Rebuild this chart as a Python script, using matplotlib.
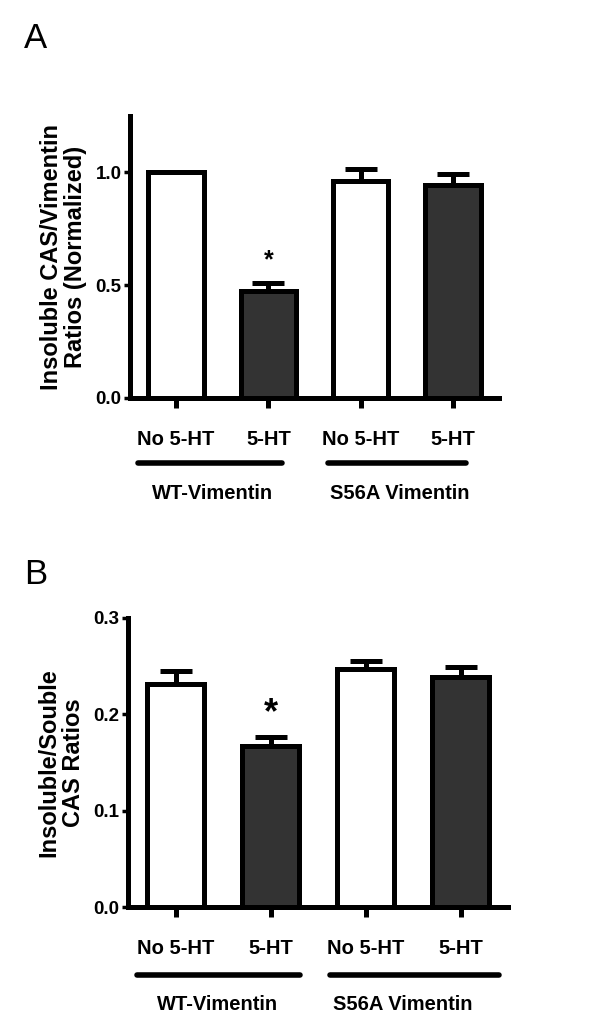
import numpy as np
import matplotlib
matplotlib.use("Agg")
import matplotlib.pyplot as plt

plt.rcParams['font.family'] = ['Liberation Sans', 'DejaVu Sans']

conditions = ["No 5-HT", "5-HT", "No 5-HT", "5-HT"]
groups = ["WT-Vimentin", "S56A Vimentin"]
fills = ["white", "#333333", "white", "#333333"]

# panel A: insoluble CAS / vimentin, normalized
a_vals = [1.0, 0.476, 0.964, 0.944]
a_err = [0.0, 0.034, 0.052, 0.050]
# panel B: insoluble / soluble CAS
b_vals = [0.232, 0.167, 0.247, 0.239]
b_err = [0.013, 0.009, 0.008, 0.010]

W, H = 601, 1028
fig = plt.figure(figsize=(W / 100, H / 100), dpi=100)

LW = 3.6


def make_panel(rect, vals, errs, ylim, yticks, ylabel, star_y, star_size,
               line_y, lines_x, label_y, label_x, letter, letter_xy, labelpad):
    ax = fig.add_axes(rect)
    x = np.arange(len(vals))
    lower = np.zeros(len(vals))
    ax.errorbar(x, vals, yerr=[lower, errs], fmt='none', ecolor='black',
                elinewidth=LW, capsize=11.5, capthick=LW, zorder=1)
    ax.bar(x, vals, width=0.6, color=fills, edgecolor='black',
           linewidth=LW, zorder=2)
    ax.set_xlim(-0.5, 3.5)
    ax.set_ylim(*ylim)
    ax.set_yticks(yticks)
    ax.set_yticklabels([f"{v:.1f}" for v in yticks])
    ax.set_xticks(x)
    ax.set_xticklabels(conditions)
    for s in ['top', 'right']:
        ax.spines[s].set_visible(False)
    for s in ['left', 'bottom']:
        ax.spines[s].set_linewidth(LW)
    ax.tick_params(axis='y', direction='out', length=4, width=2.5, pad=2,
                   labelsize=13.5)
    ax.tick_params(axis='x', direction='out', length=7, width=LW, pad=16,
                   labelsize=14.5)
    for lab in ax.get_xticklabels() + ax.get_yticklabels():
        lab.set_fontweight('bold')
    ax.set_ylabel(ylabel, fontsize=17, fontweight='bold', linespacing=1.1,
                  labelpad=labelpad)
    # significance star over the 5-HT bar in WT group
    ax.text(1, star_y, "*", ha='center', va='center', fontsize=star_size,
            fontweight='bold')
    tr = ax.get_xaxis_transform()
    for (x0, x1) in lines_x:
        ax.plot([x0, x1], [line_y, line_y], color='black', lw=LW + 0.4,
                solid_capstyle='round', transform=tr, clip_on=False)
    for gx, g in zip(label_x, groups):
        ax.text(gx, label_y, g, transform=tr, ha='center', va='center',
                fontsize=14.5, fontweight='bold')
    fig.text(letter_xy[0] / W, 1 - letter_xy[1] / H, letter, fontsize=25,
             ha='center', va='center')
    return ax


def rect_px(left, right, top, bottom):
    return [left / W, 1 - bottom / H, (right - left) / W, (bottom - top) / H]


make_panel(rect_px(130, 499, 116, 398), a_vals, a_err, (0, 1.25),
           [0.0, 0.5, 1.0], "Insoluble CAS/Vimentin\nRatios (Normalized)",
           0.61, 18, -0.23, [(-0.41, 1.15), (1.65, 3.14)], -0.34,
           [0.4, 2.42], "A", (36, 38), 6)

make_panel(rect_px(128, 508, 618, 907), b_vals, b_err, (0, 0.3),
           [0.0, 0.1, 0.2, 0.3], "Insoluble/Souble\nCAS Ratios",
           0.201, 26, -0.234, [(-0.41, 1.31), (1.63, 3.40)], -0.338,
           [0.44, 2.39], "B", (36, 575), 6)

fig.savefig("out.png", dpi=100, facecolor='white')
